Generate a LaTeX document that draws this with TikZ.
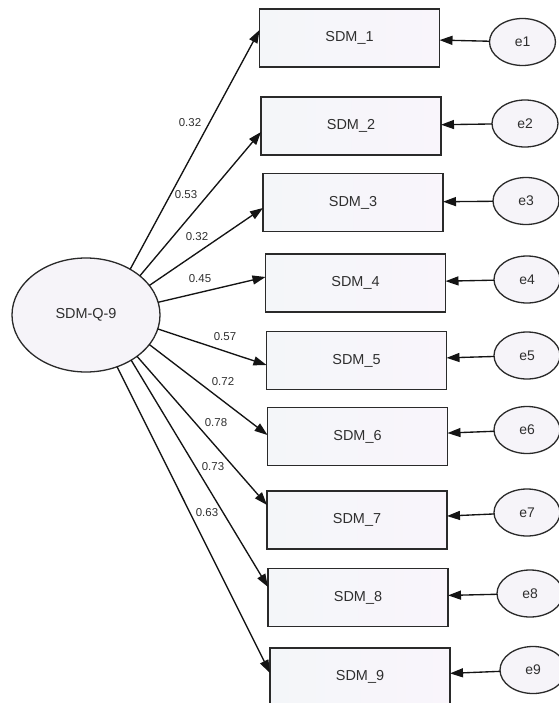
\documentclass[tikz,border=0pt]{standalone}
\usepackage{fontspec}
\setmainfont{Liberation Sans}
\usetikzlibrary{arrows.meta,shapes.geometric,calc}
\definecolor{txt}{HTML}{2F2F2F}
\definecolor{edge}{HTML}{2A2A2A}
\definecolor{boxl}{HTML}{F4F6F9}
\definecolor{boxr}{HTML}{F9F5FB}
\definecolor{ellfill}{HTML}{F6F4F9}
\begin{document}
\begin{tikzpicture}[x=1bp,y=-1bp,
  obs/.style={rectangle, draw=edge, line width=1.6bp, minimum width=180bp, minimum height=58bp,
    inner sep=0pt, outer sep=0pt, left color=boxl, right color=boxr,
    font=\fontsize{14.5}{17}\selectfont, text=txt},
  err/.style={ellipse, draw=edge, line width=1.3bp, minimum width=66bp, minimum height=47bp,
    inner sep=0pt, outer sep=0pt, fill=ellfill, font=\fontsize{14}{16}\selectfont, text=txt},
  lat/.style={ellipse, draw=edge, line width=1.3bp, minimum width=148bp, minimum height=114bp,
    inner sep=0pt, outer sep=0pt, fill=ellfill, font=\fontsize{14.5}{17}\selectfont, text=txt},
  arr/.style={draw=black!92, line width=1.35bp, -{Triangle[length=13bp,width=9bp]}},
  coef/.style={font=\fontsize{11.5}{13}\selectfont, text=txt, inner sep=0pt}]
\useasboundingbox (0,0) rectangle (559,703);

% latent
\node[lat] (L) at (86,315) {SDM-Q-9};

% observed
\node[obs] (S1) at (349.5,38) {SDM\_1};
\node[obs] (S2) at (351,126) {SDM\_2};
\node[obs] (S3) at (353,202.5) {SDM\_3};
\node[obs] (S4) at (355.5,283) {SDM\_4};
\node[obs] (S5) at (356.5,360.5) {SDM\_5};
\node[obs] (S6) at (357.5,436.5) {SDM\_6};
\node[obs] (S7) at (357,520) {SDM\_7};
\node[obs] (S8) at (358,597.5) {SDM\_8};
\node[obs] (S9) at (360,677) {SDM\_9};

% errors
\node[err] (E1) at (522.5,42) {e1};
\node[err] (E2) at (525,123.5) {e2};
\node[err] (E3) at (526,201) {e3};
\node[err] (E4) at (527,279.5) {e4};
\node[err] (E5) at (527,355.5) {e5};
\node[err] (E6) at (527,430) {e6};
\node[err] (E7) at (527,512.5) {e7};
\node[err] (E8) at (530,593.5) {e8};
\node[err] (E9) at (533,670) {e9};

% error paths
\foreach \i in {1,...,9} { \draw[arr] (E\i) -- (S\i); }

% loadings
\draw[arr] (L.46.9) -- ($(S1.west)+(0,-8)$);
\draw[arr] (L.36.3) -- ($(S2.west)+(0,6)$);
\draw[arr] (L.25.1) -- ($(S3.west)+(0,5.5)$);
\draw[arr] (L.10) -- ($(S4.west)+(0,-6)$);
\draw[arr] (L.-11.5) -- ($(S5.west)+(0,4.5)$);
\draw[arr] (L.-25.9) -- ($(S6.west)+(0,-1.5)$);
\draw[arr] (L.-39) -- ($(S7.west)+(0,-15)$);
\draw[arr] (L.-45) -- ($(S8.west)+(0,-10.5)$);
\draw[arr] (L.-59) -- ($(S9.west)+(0,-4)$);

% coefficients
\node[coef] (c1) at (190,123) {0.32};
\node[coef] (c2) at (186,195) {0.53};
\node[coef] (c3) at (197,237) {0.32};
\node[coef] (c4) at (200,279) {0.45};
\node[coef] (c5) at (225,337) {0.57};
\node[coef] (c6) at (223,382) {0.72};
\node[coef] (c7) at (216,423) {0.78};
\node[coef] (c8) at (213,467) {0.73};
\node[coef] (c9) at (207,513) {0.63};
\end{tikzpicture}
\end{document}
